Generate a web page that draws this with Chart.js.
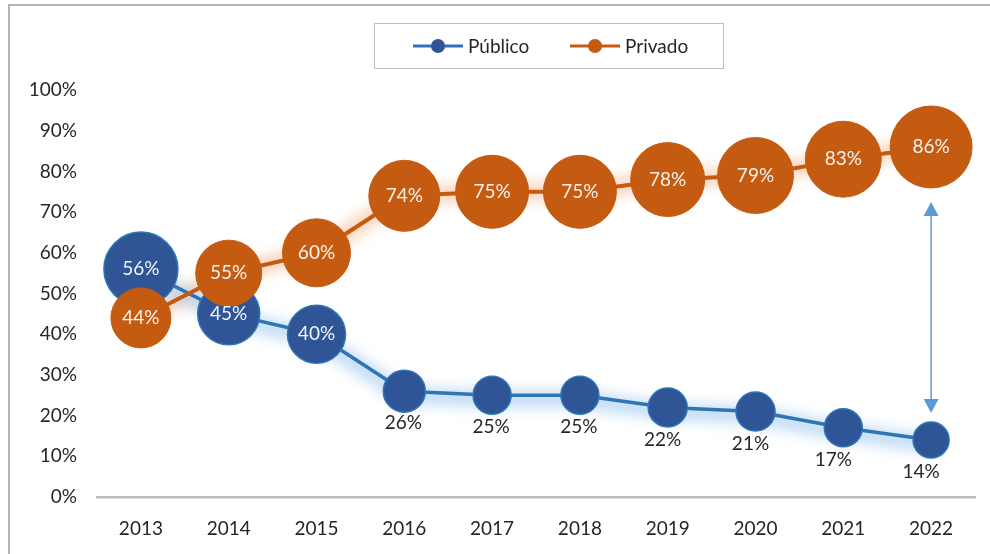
<!DOCTYPE html>
<html>
<head>
<meta charset="utf-8">
<script src="https://cdn.jsdelivr.net/npm/chart.js@4/dist/chart.umd.min.js"></script>
<style>
  html, body { margin: 0; padding: 0; background: #ffffff; }
  #wrap { position: relative; width: 990px; height: 554px; overflow: hidden; }
  #frameTop { position: absolute; left: 8px; top: 4px; width: 990px; height: 2px; background: #b4b4b4; }
  #frameLeft { position: absolute; left: 8px; top: 4px; width: 2px; height: 560px; background: #b4b4b4; }
  canvas { position: absolute; left: 0; top: 0; }
</style>
</head>
<body>
<div id="wrap">
  <div id="frameTop"></div>
  <div id="frameLeft"></div>
  <canvas id="c" width="990" height="554"></canvas>
</div>
<script>
// ---- data ----
const years = ['2013','2014','2015','2016','2017','2018','2019','2020','2021','2022'];
const publico = [56, 45, 40, 26, 25, 25, 22, 21, 17, 14];
const privado = [44, 55, 60, 74, 75, 75, 78, 79, 83, 86];
const seriesNames = ['Público', 'Privado'];
const yTicks = [0,10,20,30,40,50,60,70,80,90,100];

// ---- styles ----
const publicoRadius = [37, 31, 29, 21, 19, 19, 19.5, 19.5, 19, 18];
const privadoRadius = [30, 33, 34, 35.5, 36.5, 36.5, 37, 38, 38, 41];
const publicoInside = [true, true, true, false, false, false, false, false, false, false];
const BLUE_LINE = '#2E75B6', BLUE_FILL = '#2F5597', ORANGE = '#C55A11';
const FONT = 'Lato';

Chart.defaults.font.family = FONT;

const glowPlugin = {
  id: 'glow',
  beforeDatasetsDraw(chart) {
    const ctx = chart.ctx;
    chart.data.datasets.forEach((ds, di) => {
      const meta = chart.getDatasetMeta(di);
      ctx.save();
      ctx.filter = 'blur(7px)';
      ctx.strokeStyle = ds.glowColor;
      ctx.lineWidth = 16;
      ctx.lineJoin = 'round';
      ctx.lineCap = 'round';
      ctx.beginPath();
      meta.data.forEach((pt, i) => {
        const y = pt.y + (ds.glowOffset || 0);
        if (i === 0) ctx.moveTo(pt.x, y); else ctx.lineTo(pt.x, y);
      });
      ctx.stroke();
      ctx.restore();
    });
  }
};

const annotPlugin = {
  id: 'annot',
  afterDatasetsDraw(chart) {
    const ctx = chart.ctx;
    const xs = chart.scales.x, ys = chart.scales.y;
    // double arrow at last category
    const li = years.length - 1;
    const ax = xs.getPixelForValue(li);
    const yTop = ys.getPixelForValue(privado[li]) + privadoRadius[li] + 14;
    const yBot = ys.getPixelForValue(publico[li]) - publicoRadius[li] - 9;
    ctx.save();
    ctx.strokeStyle = '#5B9BD5';
    ctx.fillStyle = '#5B9BD5';
    ctx.lineWidth = 1.5;
    ctx.beginPath();
    ctx.moveTo(ax, yTop + 10);
    ctx.lineTo(ax, yBot - 10);
    ctx.stroke();
    ctx.beginPath();
    ctx.moveTo(ax, yTop); ctx.lineTo(ax - 7.5, yTop + 14); ctx.lineTo(ax + 7.5, yTop + 14); ctx.closePath(); ctx.fill();
    ctx.beginPath();
    ctx.moveTo(ax, yBot); ctx.lineTo(ax - 7.5, yBot - 14); ctx.lineTo(ax + 7.5, yBot - 14); ctx.closePath(); ctx.fill();
    ctx.restore();

    // data labels
    ctx.save();
    ctx.font = '19px ' + FONT;
    ctx.textAlign = 'center';
    ctx.textBaseline = 'middle';
    const metaPub = chart.getDatasetMeta(1);
    const metaPriv = chart.getDatasetMeta(0);
    metaPriv.data.forEach((pt, i) => {
      ctx.fillStyle = '#F7F2EE';
      ctx.fillText(privado[i] + '%', pt.x, pt.y);
    });
    metaPub.data.forEach((pt, i) => {
      if (publicoInside[i]) {
        ctx.fillStyle = '#F2F4F8';
        ctx.fillText(publico[i] + '%', pt.x, pt.y);
      } else {
        ctx.fillStyle = '#262626';
        ctx.fillText(publico[i] + '%', pt.x - (i >= 8 ? 10 : (i >= 6 ? 5 : 1)), pt.y + 32);
      }
    });
    ctx.restore();

    // legend
    ctx.save();
    ctx.strokeStyle = '#bfbfbf';
    ctx.lineWidth = 1;
    ctx.strokeRect(374.5, 23.5, 349, 45);
    const items = [
      {name: seriesNames[0], line: BLUE_LINE, fill: BLUE_FILL, x: 413},
      {name: seriesNames[1], line: ORANGE, fill: ORANGE, x: 570}
    ];
    ctx.font = '19px ' + FONT;
    ctx.textBaseline = 'middle';
    ctx.textAlign = 'left';
    items.forEach(it => {
      ctx.strokeStyle = it.line;
      ctx.lineWidth = 3;
      ctx.beginPath(); ctx.moveTo(it.x, 46); ctx.lineTo(it.x + 50, 46); ctx.stroke();
      ctx.fillStyle = it.fill;
      ctx.beginPath(); ctx.arc(it.x + 25, 46, 7, 0, Math.PI * 2); ctx.fill();
      ctx.fillStyle = '#262626';
      ctx.fillText(it.name, it.x + 55, 47);
    });
    ctx.restore();
  }
};

new Chart(document.getElementById('c'), {
  type: 'line',
  data: {
    labels: years,
    datasets: [
      {
        label: seriesNames[1],
        data: privado,
        order: 0,
        borderColor: ORANGE,
        borderWidth: 4,
        backgroundColor: ORANGE,
        pointBackgroundColor: ORANGE,
        pointBorderColor: ORANGE,
        pointBorderWidth: 1,
        pointRadius: privadoRadius,
        pointHoverRadius: privadoRadius,
        tension: 0,
        clip: false,
        glowColor: 'rgba(248,190,150,0.7)',
        glowOffset: 0
      },
      {
        label: seriesNames[0],
        data: publico,
        order: 1,
        borderColor: BLUE_LINE,
        borderWidth: 3.5,
        backgroundColor: BLUE_FILL,
        pointBackgroundColor: BLUE_FILL,
        pointBorderColor: BLUE_LINE,
        pointBorderWidth: 1.5,
        pointRadius: publicoRadius,
        pointHoverRadius: publicoRadius,
        tension: 0,
        clip: false,
        glowColor: 'rgba(170,205,240,0.75)',
        glowOffset: 4
      }
    ]
  },
  options: {
    responsive: false,
    animation: false,
    events: [],
    layout: { autoPadding: false, padding: { left: 0, right: 15, top: 90, bottom: 0 } },
    plugins: { legend: { display: false }, tooltip: { enabled: false } },
    scales: {
      x: {
        type: 'category',
        offset: true,
        grid: { display: false, drawTicks: false, offset: true },
        border: { display: true, color: '#bfbfbf', width: 2.5 },
        ticks: { color: '#262626', font: { size: 19, family: FONT }, padding: 20, maxRotation: 0 },
        afterFit(scale) { scale.height = 57; }
      },
      y: {
        min: 0, max: 100,
        afterBuildTicks(scale) { scale.ticks = yTicks.map(v => ({ value: v })); },
        grid: { display: false, drawTicks: false },
        border: { display: false },
        ticks: { color: '#262626', font: { size: 19, family: FONT }, padding: 20, callback: v => v + '%' },
        afterFit(scale) { scale.width = 97; }
      }
    }
  },
  plugins: [glowPlugin, annotPlugin]
});
</script>
</body>
</html>
